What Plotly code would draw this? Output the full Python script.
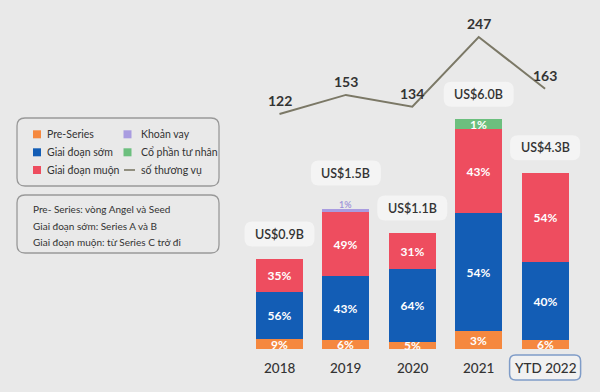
import plotly.graph_objects as go

# ---------------- data ----------------
years = ["2018", "2019", "2020", "2021", "YTD 2022"]
total_value = ["US$0.9B", "US$1.5B", "US$1.1B", "US$6.0B", "US$4.3B"]
deals = [122, 153, 134, 247, 163]

# share labels (%)
pct_pre = [9, 6, 5, 3, 6]
pct_early = [56, 43, 64, 54, 40]
pct_late = [35, 49, 31, 43, 54]
pct_loan = [0, 1, 0, 0, 0]
pct_pe = [0, 0, 0, 1, 0]

# displayed segment heights (relative units)
h_pre = [0.103, 0.09, 0.073, 0.18, 0.09]
h_early = [0.47, 0.64, 0.724, 1.183, 0.777]
h_late = [0.327, 0.637, 0.363, 0.837, 0.896]
h_loan = [0.0, 0.033, 0.0, 0.0, 0.0]
h_pe = [0.0, 0.0, 0.0, 0.097, 0.0]

series_names = ["Pre-Series", "Giai đoạn sớm", "Giai đoạn muộn", "Khoản vay", "Cổ phần tư nhân", "số thương vụ"]
notes = ["Pre- Series: vòng Angel và Seed", "Giai đoạn sớm: Series A và B", "Giai đoạn muộn: từ Series C trở đi"]

# ---------------- style ----------------
BG = "#e9e9e9"
C_PRE = "#f5883f"
C_EARLY = "#135db5"
C_LATE = "#ee4d5f"
C_LOAN = "#a99ce0"
C_PE = "#6cbf7e"
C_LINE = "#7b7866"
TXT = "#333333"
FONT = "Lato"

W, H = 600, 392
x_idx = list(range(len(years)))


def lbl(vals):
    return [f"{v}%" if v > 0 else "" for v in vals]


fig = go.Figure()

bar_w = 0.71
for vals, pcts, col in [(h_pre, pct_pre, C_PRE), (h_early, pct_early, C_EARLY),
                        (h_late, pct_late, C_LATE), (h_pe, pct_pe, C_PE)]:
    fig.add_trace(go.Bar(x=x_idx, y=vals, width=bar_w, marker=dict(color=col, line=dict(width=0)),
                         text=lbl(pcts), texttemplate="%{text}", textposition="inside",
                         insidetextanchor="middle",
                         textfont=dict(color="white", size=12, family=FONT, weight=700),
                         hoverinfo="skip", showlegend=False))
fig.add_trace(go.Bar(x=x_idx, y=h_loan, width=bar_w, marker=dict(color=C_LOAN, line=dict(width=0)),
                     hoverinfo="skip", showlegend=False))

fig.add_trace(go.Scatter(x=x_idx, y=deals, yaxis="y2", mode="lines",
                         line=dict(color=C_LINE, width=2),
                         hoverinfo="skip", showlegend=False, cliponaxis=False))


def rrect_path(w, h, r, dx=0.0, dy=0.0):
    x0, x1 = dx - w / 2, dx + w / 2
    y0, y1 = dy - h / 2, dy + h / 2
    return (f"M{x0 + r},{y0} L{x1 - r},{y0} Q{x1},{y0} {x1},{y0 + r} "
            f"L{x1},{y1 - r} Q{x1},{y1} {x1 - r},{y1} L{x0 + r},{y1} "
            f"Q{x0},{y1} {x0},{y1 - r} L{x0},{y0 + r} Q{x0},{y0} {x0 + r},{y0} Z")


shapes = []
annotations = []

# deal-count labels
for i, d in enumerate(deals):
    annotations.append(dict(x=i, y=d, xref="x", yref="y2", yshift=13.5, text=str(d), showarrow=False,
                            font=dict(size=14, color=TXT, family=FONT, weight=700)))

# totals of the stacks
totals = [a + b + c + d + e for a, b, c, d, e in zip(h_pre, h_early, h_late, h_loan, h_pe)]

# small loan share label above the 2019 bar
for i, p in enumerate(pct_loan):
    if p > 0:
        annotations.append(dict(x=i, y=totals[i], xref="x", yref="y", yshift=5, text=f"{p}%",
                                showarrow=False,
                                font=dict(size=9, color="#9b90d8", family=FONT, weight=600)))

# total value boxes above bars
for i, t in enumerate(totals):
    off = 25 + (11 if h_loan[i] > 0 else 0)
    shapes.append(dict(type="path", xref="x", yref="y", xsizemode="pixel", ysizemode="pixel",
                       xanchor=i, yanchor=t, path=rrect_path(70, 25, 8, 0, off),
                       fillcolor="#f4f4f4", line=dict(width=0), layer="above"))
    annotations.append(dict(x=i, y=t, xref="x", yref="y", yshift=off, text=total_value[i],
                            showarrow=False, font=dict(size=12.5, color=TXT, family=FONT, weight=600)))

# x category labels
for i, yl in enumerate(years):
    if yl.startswith("YTD"):
        shapes.append(dict(type="path", xref="x", yref="y", xsizemode="pixel", ysizemode="pixel",
                           xanchor=i, yanchor=0, path=rrect_path(71, 25, 6, 0, -18.5),
                           fillcolor="#f1f1f1", line=dict(color="#7f9cc8", width=1.5), layer="below"))
    annotations.append(dict(x=i, y=0, xref="x", yref="y", yshift=-18.5, text=yl, showarrow=False,
                            font=dict(size=13.5, color=TXT, family=FONT, weight=500)))


def px_x(p):
    return p / W


def px_y(p):
    return 1 - p / H


# legend boxes
shapes.append(dict(type="path", xref="paper", yref="paper", xsizemode="pixel", ysizemode="pixel",
                   xanchor=px_x(118), yanchor=px_y(152), path=rrect_path(202, 68, 8),
                   fillcolor="rgba(0,0,0,0)", line=dict(color="#999999", width=1.3)))
shapes.append(dict(type="path", xref="paper", yref="paper", xsizemode="pixel", ysizemode="pixel",
                   xanchor=px_x(118), yanchor=px_y(224), path=rrect_path(202, 58, 8),
                   fillcolor="rgba(0,0,0,0)", line=dict(color="#999999", width=1.3)))

leg_cols = [C_PRE, C_EARLY, C_LATE, C_LOAN, C_PE, None]
rows_y = [134.3, 152.3, 170]
for k, name in enumerate(series_names):
    col_i, row_i = divmod(k, 3)
    sx = 37 if col_i == 0 else 127.5
    tx = 45 if col_i == 0 else 138.5
    cy = rows_y[row_i]
    if leg_cols[k] is not None:
        shapes.append(dict(type="rect", xref="paper", yref="paper",
                           x0=px_x(sx - 4), x1=px_x(sx + 4), y0=px_y(cy - 4), y1=px_y(cy + 4),
                           fillcolor=leg_cols[k], line=dict(width=0)))
    else:
        shapes.append(dict(type="line", xref="paper", yref="paper",
                           x0=px_x(124), x1=px_x(135), y0=px_y(cy), y1=px_y(cy),
                           line=dict(color=C_LINE, width=1.6)))
    annotations.append(dict(x=px_x(tx), y=px_y(cy), xref="paper", yref="paper", text=name,
                            xanchor="left", yanchor="middle", showarrow=False,
                            font=dict(size=10.5, color=TXT, family=FONT)))

for j, line in enumerate(notes):
    annotations.append(dict(x=px_x(31), y=px_y([209, 226.5, 242.3][j]), xref="paper", yref="paper",
                            text=line, xanchor="left", yanchor="middle", showarrow=False,
                            font=dict(size=10, color=TXT, family=FONT)))

# axes geometry
px_per_cat = 66.4
x0_px = 279.5
base_px = 349
slope = (114 - 37) / (247 - 122)
y2_hi = 122 + 114 / slope
y2_lo = y2_hi - H / slope

fig.update_layout(
    width=W, height=H, margin=dict(l=0, r=0, t=0, b=0, autoexpand=False),
    paper_bgcolor=BG, plot_bgcolor=BG, barmode="stack", bargap=0,
    uniformtext=dict(minsize=12, mode="show"),
    xaxis=dict(range=[-x0_px / px_per_cat, (W - x0_px) / px_per_cat], visible=False, fixedrange=True),
    yaxis=dict(range=[-(H - base_px) / 100, base_px / 100], visible=False, fixedrange=True),
    yaxis2=dict(range=[y2_lo, y2_hi], overlaying="y", visible=False, fixedrange=True),
    shapes=shapes, annotations=annotations, hovermode=False,
    font=dict(family=FONT, color=TXT),
)

fig.write_html("out.html", config={"displayModeBar": False},
               post_script="document.body.style.margin='0';document.body.style.padding='0';"
                           "document.body.style.background='" + BG + "';")
